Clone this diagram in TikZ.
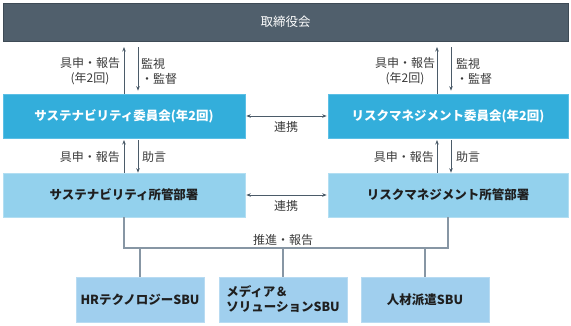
\documentclass[tikz,border=0pt]{standalone}
\usepackage{fontspec}
\setmainfont{Noto Sans CJK JP}
\usetikzlibrary{arrows.meta,calc}
\definecolor{topc}{HTML}{505F6C}
\definecolor{topb}{HTML}{3E4B56}
\definecolor{comc}{HTML}{33AEDB}
\definecolor{comb}{HTML}{5CBFE5}
\definecolor{depc}{HTML}{93D1ED}
\definecolor{depb}{HTML}{B2DEF2}
\definecolor{sbuc}{HTML}{A0CFEE}
\definecolor{sbub}{HTML}{B8DBF2}
\definecolor{arrc}{HTML}{4B5B69}
\definecolor{linec}{HTML}{8796A4}
\definecolor{txtc}{HTML}{3A3A3A}
\tikzset{
  box/.style={draw, line width=0.6pt, minimum height=0pt, inner sep=0pt, font=\fontsize{12.5}{14}\selectfont},
  topbox/.style={box, fill=topc, draw=topb, text=white},
  combox/.style={box, fill=comc, draw=comb, text=white, font=\fontsize{12.5}{14}\selectfont\bfseries},
  depbox/.style={box, fill=depc, draw=depb, text=black!88, font=\fontsize{12.5}{14}\selectfont\bfseries},
  sbubox/.style={box, fill=sbuc, draw=sbub, text=black!88, font=\fontsize{12.5}{15}\selectfont\bfseries},
  lab/.style={inner sep=0pt, text=txtc, font=\fontsize{12}{15}\selectfont},
  arr/.style={draw=arrc, line width=0.8pt, -{Stealth[length=4.5pt,width=3.5pt]}},
  darr/.style={draw=arrc, line width=0.8pt, {Stealth[length=4.5pt,width=3.5pt]}-{Stealth[length=4.5pt,width=3.5pt]}},
  tree/.style={draw=linec, line width=1.2pt}
}
\begin{document}
\begin{tikzpicture}[x=1pt,y=-1pt]
\useasboundingbox (0,0) rectangle (571,325);
% boxes
\node[topbox, minimum width=565pt, minimum height=38pt] (top) at (285.5,22) {取締役会};
\node[combox, minimum width=242pt, minimum height=44pt] (c1) at (124,116) {サステナビリティ委員会(年2回)};
\node[combox, minimum width=240pt, minimum height=44pt] (c2) at (448,116) {リスクマネジメント委員会(年2回)};
\node[depbox, minimum width=242pt, minimum height=44pt] (d1) at (124,195) {サステナビリティ所管部署};
\node[depbox, minimum width=240pt, minimum height=44pt] (d2) at (448,195) {リスクマネジメント所管部署};
\node[sbubox, minimum width=128pt, minimum height=45pt] (s1) at (140,299.5) {HRテクノロジーSBU};
\node[sbubox, minimum width=128pt, minimum height=45pt, align=left] (s2) at (283,299.5) {メディア＆\\ソリューションSBU};
\node[sbubox, minimum width=128pt, minimum height=45pt] (s3) at (425,299.5) {人材派遣SBU};
% coordinates
\coordinate (xl1) at (124,0);
\coordinate (xl2) at (138,0);
\coordinate (xr1) at (437,0);
\coordinate (xr2) at (451,0);
\coordinate (ya) at (0,47);
\coordinate (yb) at (0,140);
\coordinate (yt) at (0,248);
% top arrows
\draw[arr] (c1.north -| xl1) -- (ya -| xl1);
\draw[arr] (ya -| xl2) -- ([yshift=3pt]c1.north -| xl2);
\draw[arr] (c2.north -| xr1) -- (ya -| xr1);
\draw[arr] (ya -| xr2) -- ([yshift=3pt]c2.north -| xr2);
% lower arrows
\draw[arr] (d1.north -| xl1) -- (yb -| xl1);
\draw[arr] (yb -| xl2) -- (d1.north -| xl2);
\draw[arr] (d2.north -| xr1) -- (yb -| xr1);
\draw[arr] (yb -| xr2) -- (d2.north -| xr2);
% horizontal links
\draw[darr] ([xshift=1pt]c1.east) -- ([xshift=-1pt]c2.west);
\draw[darr] ([xshift=1pt]d1.east) -- ([xshift=-1pt]d2.west);
% labels
\node[lab, align=center] (l1) at (90,71.5) {具申・報告\\(年2回)};
\node[lab, align=left, anchor=west] (l2) at (141,71.5) {監視\\・監督};
\node[lab, align=center] (l3) at (405,71.5) {具申・報告\\(年2回)};
\node[lab, align=left, anchor=west] (l4) at (456,71.5) {監視\\・監督};
\node[lab, anchor=east] (l5) at (120,157) {具申・報告};
\node[lab, anchor=west] (l6) at (142,157) {助言};
\node[lab, anchor=east] (l7) at (434,157) {具申・報告};
\node[lab, anchor=west] (l8) at (456,157) {助言};
\node[lab] (k1) at (286,127) {連携};
\node[lab] (k2) at (286,206) {連携};
\node[lab] (k3) at (283,240) {推進・報告};
% tree
\draw[tree] (d1.south) -- (yt -| d1.south) -- (yt -| d2.south) -- (d2.south);
\draw[tree] (yt -| s1.north) -- (s1.north);
\draw[tree] (yt -| s2.north) -- (s2.north);
\draw[tree] (yt -| s3.north) -- (s3.north);
\end{tikzpicture}
\end{document}
